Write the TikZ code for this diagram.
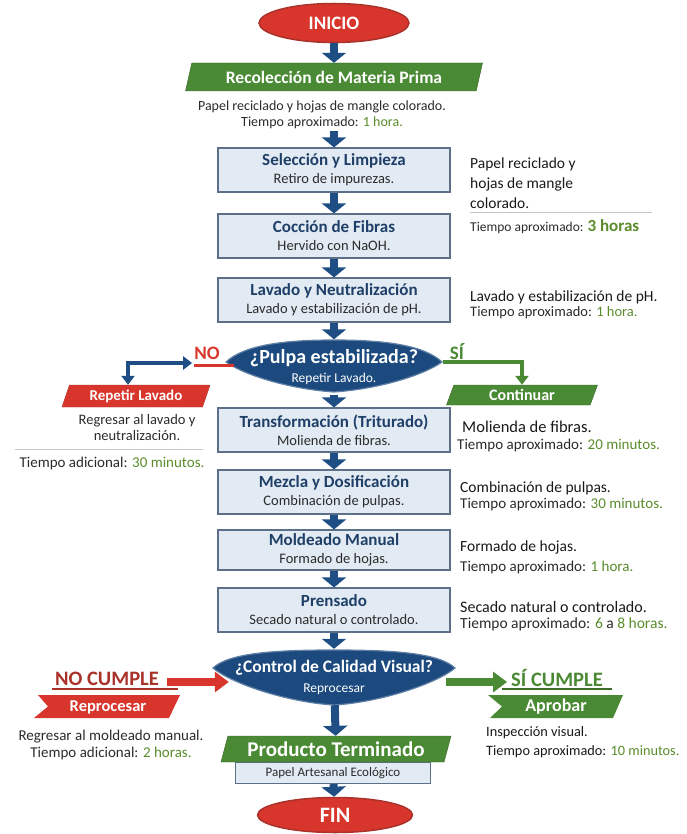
\documentclass[tikz,border=0pt]{standalone}
\usepackage{fontspec}
\setmainfont{Carlito}
\usetikzlibrary{arrows.meta,shapes.geometric,positioning,backgrounds}

\definecolor{azul}{HTML}{1F4E85}
\definecolor{rombo}{HTML}{1C4A7E}
\definecolor{rojo}{HTML}{D8362C}
\definecolor{rojoosc}{HTML}{A9322B}
\definecolor{verde}{HTML}{4B8A35}
\definecolor{verdetxt}{HTML}{5A8C2C}
\definecolor{cajafondo}{HTML}{E2EBF3}
\definecolor{cajaborde}{HTML}{5C7189}
\definecolor{titulo}{HTML}{1F3F68}
\definecolor{gristxt}{HTML}{2B2B2B}

\newcommand{\verde}[1]{\textcolor{verdetxt}{#1}}
\newcommand{\paso}[2]{{\fontsize{17}{19}\selectfont\bfseries\color{titulo}#1}\\#2}

\begin{document}
\begin{tikzpicture}[x=1pt,y=-1pt,
    flecha/.style={draw=azul, line width=8pt, -{Triangle[width=24pt,length=10pt]}},
    flechab/.style={draw=azul, line width=4pt, {Triangle[width=13pt,length=9pt]}-{Triangle[width=13pt,length=9pt]}},
    flechav/.style={draw=verde, line width=3.5pt, -{Triangle[width=13pt,length=9pt]}},
    flecharoja/.style={draw=rojo, line width=8pt, -{Triangle[width=20pt,length=14pt]}},
    flechaverde/.style={draw=verde, line width=8pt, -{Triangle[width=20pt,length=14pt]}},
    caja/.style={draw=cajaborde, fill=cajafondo, line width=1.2pt, minimum width=232pt, minimum height=44pt,
      align=center, inner sep=0pt, text=gristxt, font=\fontsize{14.5}{18}\selectfont},
    banda/.style={trapezium, trapezium stretches body, fill=verde, draw=verde!70!black, text=white,
      font=\bfseries\fontsize{17.5}{20}\selectfont, inner sep=0pt},
    ovalo/.style={ellipse, fill=rojo, draw=rojoosc, line width=1.5pt, text=white,
      font=\bfseries\fontsize{19}{22}\selectfont, inner sep=0pt},
    decision/.style={align=center, text=white, inner sep=0pt},
    forma/.style={fill=rombo, draw=rombo!70!white, line width=1.2pt},
    texto/.style={text=gristxt, inner sep=0pt, font=\fontsize{15}{17}\selectfont},
    nota/.style={text=black!90, inner sep=0pt, align=left, anchor=west, font=\fontsize{15.5}{20}\selectfont},
    gris/.style={draw=gray!45, line width=1pt},
  ]
  \useasboundingbox (0,0) rectangle (686,834);

  % inicio y recoleccion
  \node[ovalo, minimum width=150pt, minimum height=39pt] (inicio) at (334,23) {INICIO};
  \node[banda, trapezium left angle=63, trapezium right angle=117, minimum width=297pt, minimum height=28pt] (recol) at (334,77) {Recolección de Materia Prima};
  \node[texto, align=center, font=\fontsize{14}{16}\selectfont] (recoltxt) at (322,115) {Papel reciclado y hojas de mangle colorado.\\Tiempo aproximado: \verde{1 hora.}};

  % pasos principales
  \node[caja] (selec) at (334,170) {\paso{Selección y Limpieza}{Retiro de impurezas.}};
  \node[caja] (coccion) at (334,236) {\paso{Cocción de Fibras}{Hervido con NaOH.}};
  \node[caja] (lavado) at (334,300) {\paso{Lavado y Neutralización}{Lavado y estabilización de pH.}};
  \node[decision, minimum width=217pt, minimum height=55pt, font=\fontsize{13.5}{19}\selectfont] (pulpa) at (334,367) {{\bfseries\fontsize{20}{22}\selectfont ¿Pulpa estabilizada?}\\Repetir Lavado.};
  \node[caja] (transf) at (334,430) {\paso{Transformación (Triturado)}{Molienda de fibras.}};
  \node[caja] (mezcla) at (334,492) {\paso{Mezcla y Dosificación}{Combinación de pulpas.}};
  \node[caja, minimum height=40pt] (molde) at (334,550) {\paso{Moldeado Manual}{Formado de hojas.}};
  \node[caja] (prensado) at (334,610) {\paso{Prensado}{Secado natural o controlado.}};
  \node[decision, minimum width=240pt, minimum height=56pt, font=\fontsize{13.5}{20}\selectfont] (control) at (334,677) {{\bfseries\fontsize{17.5}{20}\selectfont ¿Control de Calidad Visual?}\\Reprocesar};
  \node[caja, minimum width=195pt, minimum height=21pt, font=\fontsize{13}{15}\selectfont] (papel) at (333,773) {Papel Artesanal Ecológico};
  \node[banda, trapezium left angle=65, trapezium right angle=115, minimum width=230pt, minimum height=26pt, font=\bfseries\fontsize{21}{23}\selectfont] (producto) at (336,749) {Producto Terminado};
  \node[ovalo, minimum width=155pt, minimum height=35pt, font=\bfseries\fontsize{22}{24}\selectfont] (fin) at (335,815) {FIN};

  % rombos
  \begin{scope}[on background layer]
    \filldraw[forma, shift={(pulpa.center)}] (-108,-5) .. controls (-90,-22) and (-50,-27) .. (0,-27) .. controls (50,-27) and (90,-22) .. (108,-5) .. controls (90,8) and (45,22) .. (0,25) .. controls (-45,22) and (-90,8) .. cycle;
    \filldraw[forma, shift={(control.center)}] (-121,-9) .. controls (-105,-24) and (-60,-27) .. (0,-27) .. controls (60,-27) and (105,-24) .. (121,-9) .. controls (105,5) and (50,25) .. (0,28) .. controls (-50,25) and (-105,5) .. cycle;
  \end{scope}

  % flujo principal
  \draw[flecha] (inicio) -- (recol);
  \draw[flecha] ([yshift=-2pt]selec.north |- recoltxt.south) -- (selec);
  \draw[flecha] (selec) -- (coccion);
  \draw[flecha] (coccion) -- (lavado);
  \draw[flecha] (lavado) -- (pulpa);
  \draw[flecha] (pulpa) -- (transf);
  \draw[flecha] (transf) -- (mezcla);
  \draw[flecha] (mezcla) -- (molde);
  \draw[flecha] (molde) -- (prensado);
  \draw[flecha] (prensado) -- (control);
  \draw[flecha] (control) -- (producto);
  \draw[flecha] (papel) -- (fin);

  % rama NO
  \node[text=rojo, inner sep=0pt, font=\bfseries\fontsize{19}{21}\selectfont] (no) at (207,353) {NO};
  \draw[rojo, line width=2.5pt] ([yshift=-6pt]no.south west) -- ++(40,0);
  \node[banda, fill=rojo, draw=rojoosc, trapezium left angle=60, trapezium right angle=120, minimum width=148pt, minimum height=22pt, font=\bfseries\fontsize{15}{17}\selectfont] (repetir) at (136,396) {Repetir Lavado};
  \draw[flechab] ([xshift=-2pt,yshift=-10pt]no.west) -| ([xshift=-8pt]repetir.north);
  \node[texto, align=center, font=\fontsize{14.5}{16}\selectfont] (regresa) at (137,428) {Regresar al lavado y\\neutralización.};
  \draw[gris] (15,449) -- (203,449);
  \node[texto] (tadic) at (112,463) {Tiempo adicional: \verde{30 minutos.}};

  % rama SI
  \node[text=verde, inner sep=0pt, font=\bfseries\fontsize{19}{21}\selectfont] (si) at (457,352) {SÍ};
  \node[banda, trapezium left angle=57, trapezium right angle=123, minimum width=151pt, minimum height=20pt, font=\bfseries\fontsize{16}{18}\selectfont] (continuar) at (522,395) {Continuar};
  \draw[flechav] ([yshift=5pt]pulpa.east) -| (continuar.north);

  % notas derecha
  \node[nota] (notasel) at (470,183) {Papel reciclado y\\hojas de mangle\\colorado.};
  \draw[gris] (470,213) -- (652,213);
  \node[texto, anchor=west, font=\fontsize{13.5}{16}\selectfont] (tsel) at (470,227) {Tiempo aproximado: \verde{\bfseries\fontsize{17}{19}\selectfont 3 horas}};
  \node[nota] (notalav) at (470,297) {Lavado y estabilización de pH.};
  \node[texto, anchor=west, font=\fontsize{14.5}{16}\selectfont] (tlav) at (470,313) {Tiempo aproximado: \verde{1 hora.}};
  \node[nota, font=\fontsize{16.5}{18}\selectfont] (notatra) at (462,427) {Molienda de fibras.};
  \node[texto, anchor=west] (ttra) at (457,445) {Tiempo aproximado: \verde{20 minutos.}};
  \node[nota] (notamez) at (460,488) {Combinación de pulpas.};
  \node[texto, anchor=west] (tmez) at (460,504) {Tiempo aproximado: \verde{30 minutos.}};
  \node[nota] (notamol) at (460,547) {Formado de hojas.};
  \node[texto, anchor=west] (tmol) at (460,567) {Tiempo aproximado: \verde{1 hora.}};
  \node[nota, font=\fontsize{16}{18}\selectfont] (notapre) at (460,607) {Secado natural o controlado.};
  \node[texto, anchor=west, font=\fontsize{15.5}{17}\selectfont] (tpre) at (460,624) {Tiempo aproximado: \verde{6} a \verde{8 horas.}};

  % control de calidad: no cumple
  \node[text=rojoosc, inner sep=0pt, font=\bfseries\fontsize{20.5}{23}\selectfont] (nocumple) at (107,679) {NO CUMPLE};
  \draw[rojoosc, line width=2pt] (52,689) -- (178,689);
  \draw[flecharoja] ([xshift=8pt,yshift=-3pt]nocumple.east) -- ([xshift=15pt,yshift=-5pt]control.west);
  \fill[rojo] (38,695) -- (180,695) -- (169,718) -- (34,718) -- (48,706.5) -- cycle;
  \node[text=white, inner sep=0pt, font=\bfseries\fontsize{16.5}{18}\selectfont] (reproc) at (108,707) {Reprocesar};
  \node[texto, align=center] (regmol) at (111,744.5) {Regresar al moldeado manual.\\Tiempo adicional: \verde{2 horas.}};

  % control de calidad: si cumple
  \node[text=verde, inner sep=0pt, font=\bfseries\fontsize{20.5}{23}\selectfont] (sicumple) at (557,678) {SÍ CUMPLE};
  \draw[verde!80!black, line width=2pt] (502,689) -- (612,689);
  \draw[flechaverde] ([xshift=-8pt,yshift=-5pt]control.east) -- ([xshift=-4pt,yshift=-4pt]sicumple.west);
  \fill[verde] (488,695) -- (623,695) -- (613,718) -- (490,718) -- (502,706.5) -- cycle;
  \node[text=white, inner sep=0pt, font=\bfseries\fontsize{18}{20}\selectfont] (aprobar) at (556,707) {Aprobar};
  \node[nota, font=\fontsize{14.3}{19}\selectfont] (inspec) at (486,742.5) {Inspección visual.\\Tiempo aproximado: \verde{10 minutos.}};

\end{tikzpicture}
\end{document}
